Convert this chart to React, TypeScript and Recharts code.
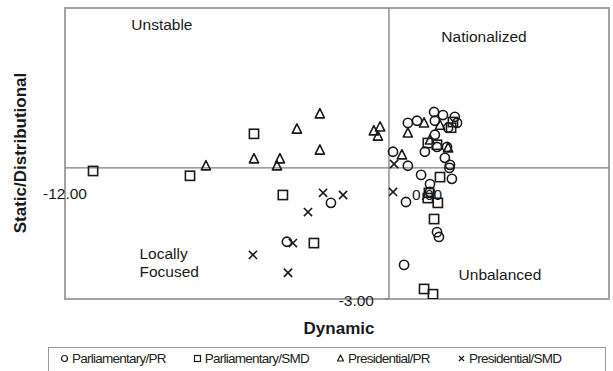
import { ScatterChart, Scatter, XAxis, YAxis, ReferenceLine, ReferenceArea, ReferenceDot } from 'recharts'

// values (Dynamic = x, Static/Distributional = y)
const parlPR = [
  { x: 1.67, y: 1.28 }, { x: 2.0, y: 1.21 }, { x: 2.44, y: 1.17 }, { x: 0.7, y: 1.03 },
  { x: 1.04, y: 1.08 }, { x: 1.7, y: 1.08 }, { x: 2.52, y: 1.03 }, { x: 2.19, y: 0.92 },
  { x: 1.7, y: 0.76 }, { x: 1.33, y: 0.37 }, { x: 1.78, y: 0.48 }, { x: 2.15, y: 0.48 },
  { x: 2.07, y: 0.23 }, { x: 2.26, y: 0.07 }, { x: 2.24, y: 0.0 }, { x: 0.15, y: 0.37 },
  { x: 0.7, y: 0.05 }, { x: 1.19, y: -0.16 }, { x: 2.33, y: -0.25 }, { x: 1.52, y: -0.37 },
  { x: 1.52, y: -0.55 }, { x: 0.63, y: -0.78 }, { x: 1.78, y: -1.47 }, { x: 1.85, y: -1.58 },
  { x: 0.56, y: -2.22 }, { x: -2.15, y: -0.8 }, { x: -3.78, y: -1.69 },
]
const parlSMD = [
  { x: -10.96, y: -0.07 }, { x: -7.37, y: -0.18 }, { x: -5.0, y: 0.78 }, { x: -3.93, y: -0.62 },
  { x: -2.78, y: -1.72 }, { x: 1.44, y: 0.57 }, { x: 1.78, y: 0.53 }, { x: 2.3, y: 0.92 },
  { x: 2.37, y: 1.05 }, { x: 1.89, y: -0.21 }, { x: 1.48, y: -0.57 }, { x: 1.44, y: -0.69 },
  { x: 1.81, y: -0.8 }, { x: 1.67, y: -1.17 }, { x: 1.3, y: -2.77 }, { x: 1.63, y: -2.89 },
]
const presPR = [
  { x: -6.78, y: 0.05 }, { x: -5.0, y: 0.21 }, { x: -4.15, y: 0.05 }, { x: -4.04, y: 0.21 },
  { x: -3.41, y: 0.89 }, { x: -2.56, y: 1.24 }, { x: -2.56, y: 0.41 }, { x: -0.56, y: 0.85 },
  { x: -0.33, y: 0.94 }, { x: -0.41, y: 0.73 }, { x: 0.7, y: 0.8 }, { x: 1.3, y: 1.03 },
  { x: 0.48, y: 0.3 }, { x: 2.19, y: 0.46 }, { x: 1.89, y: 0.98 }, { x: 1.52, y: 0.64 },
]
const presSMD = [
  { x: -5.04, y: -1.99 }, { x: -3.74, y: -2.4 }, { x: -3.56, y: -1.72 }, { x: -3.0, y: -1.01 },
  { x: -2.44, y: -0.57 }, { x: -1.7, y: -0.62 }, { x: 0.15, y: -0.55 }, { x: 0.19, y: 0.09 },
]

const xDomain = [-12, 8.15]
const yDomain = [-3, 3.66]

const quadrantLabels = [
  { x: -8.41, y: 3.27, lines: ['Unstable'] },
  { x: 3.52, y: 3.0, lines: ['Nationalized'] },
  { x: -7.5, y: -2.17, lines: ['Locally', 'Focused'] },
  { x: 4.11, y: -2.45, lines: ['Unbalanced'] },
]

const FONT = '"Liberation Sans", Arial, sans-serif'
const INK = '#1a1a1a'

type Kind = 'circle' | 'square' | 'triangle' | 'cross'

function Marker({ cx, cy, kind, s = 4.6, sw = 1.6 }: { cx: number; cy: number; kind: Kind; s?: number; sw?: number }) {
  if (kind === 'circle') return <circle cx={cx} cy={cy} r={s} fill="none" stroke={INK} strokeWidth={sw} />
  if (kind === 'square')
    return <rect x={cx - s} y={cy - s} width={s * 2} height={s * 2} fill="none" stroke={INK} strokeWidth={sw} />
  if (kind === 'triangle')
    return (
      <polygon
        points={`${cx},${cy - s - 0.5} ${cx - s},${cy + s - 0.5} ${cx + s},${cy + s - 0.5}`}
        fill="none"
        stroke={INK}
        strokeWidth={sw}
        strokeLinejoin="round"
      />
    )
  return (
    <g stroke={INK} strokeWidth={sw}>
      <line x1={cx - s + 0.5} y1={cy - s + 0.5} x2={cx + s - 0.5} y2={cy + s - 0.5} />
      <line x1={cx - s + 0.5} y1={cy + s - 0.5} x2={cx + s - 0.5} y2={cy - s + 0.5} />
    </g>
  )
}

const series: { name: string; data: { x: number; y: number }[]; kind: Kind }[] = [
  { name: 'Parliamentary/PR', data: parlPR, kind: 'circle' },
  { name: 'Parliamentary/SMD', data: parlSMD, kind: 'square' },
  { name: 'Presidential/PR', data: presPR, kind: 'triangle' },
  { name: 'Presidential/SMD', data: presSMD, kind: 'cross' },
]

const textStyle = { fontFamily: FONT, fontSize: 15.5, fill: INK }

export default function App() {
  return (
    <div style={{ position: 'relative', width: 613, height: 371, overflow: 'hidden', background: '#fff', fontFamily: FONT }}>
      <style>{'body{margin:0}'}</style>
      <ScatterChart width={613} height={371} margin={{ top: 8, right: 4, bottom: 72, left: 65 }}>
        <XAxis type="number" dataKey="x" domain={xDomain} allowDataOverflow hide />
        <YAxis type="number" dataKey="y" domain={yDomain} allowDataOverflow hide />
        <ReferenceArea x1={xDomain[0]} x2={xDomain[1]} y1={yDomain[0]} y2={yDomain[1]} fill="none" stroke="#a3a3a3" strokeWidth={2} ifOverflow="visible" />
        <ReferenceLine x={0} stroke="#808080" strokeWidth={1.3} />
        <ReferenceLine y={0} stroke="#808080" strokeWidth={1.3} />

        {/* tick labels, SPSS-style, sitting inside the frame */}
        <ReferenceDot x={-12} y={0} r={0} ifOverflow="visible"
          label={(p: any) => <text x={p.viewBox.x} y={p.viewBox.y + 31} textAnchor="middle" {...textStyle}>-12.00</text>} />
        <ReferenceDot x={0} y={0} r={0} ifOverflow="visible"
          label={(p: any) => <text x={p.viewBox.x + 23} y={p.viewBox.y + 32} {...textStyle}>0.00</text>} />
        <ReferenceDot x={0} y={-3} r={0} ifOverflow="visible"
          label={(p: any) => (
            <g>
              <line x1={p.viewBox.x - 4} y1={p.viewBox.y} x2={p.viewBox.x} y2={p.viewBox.y} stroke="#808080" strokeWidth={1.3} />
              <text x={p.viewBox.x - 15} y={p.viewBox.y + 7} textAnchor="end" {...textStyle}>-3.00</text>
            </g>
          )} />

        {quadrantLabels.map((q) => (
          <ReferenceDot key={q.lines[0]} x={q.x} y={q.y} r={0} ifOverflow="visible"
            label={(p: any) => (
              <text x={p.viewBox.x} y={p.viewBox.y + 5 - (q.lines.length - 1) * 9} textAnchor={q.lines.length > 1 ? 'start' : 'middle'} {...textStyle}>
                {q.lines.map((l, i) => (
                  <tspan key={l} x={q.lines.length > 1 ? p.viewBox.x - 47 : p.viewBox.x} dy={i === 0 ? 0 : 18}>{l}</tspan>
                ))}
              </text>
            )} />
        ))}

        {series.map((s) => (
          <Scatter key={s.name} name={s.name} data={s.data} isAnimationActive={false}
            shape={(p: any) => <Marker cx={p.cx} cy={p.cy} kind={s.kind} />} />
        ))}
      </ScatterChart>

      <div style={{ position: 'absolute', left: 21, top: 153, transform: 'translate(-50%, -50%) rotate(-90deg)', whiteSpace: 'nowrap', fontWeight: 'bold', fontSize: 17, color: INK }}>
        Static/Distributional
      </div>
      <div style={{ position: 'absolute', left: 339, top: 329, transform: 'translate(-50%, -50%)', whiteSpace: 'nowrap', fontWeight: 'bold', fontSize: 17, color: INK }}>
        Dynamic
      </div>

      <div style={{ position: 'absolute', left: 48, top: 347, width: 558, height: 30, border: '1px solid #9a9a9a', boxSizing: 'border-box', display: 'flex', alignItems: 'flex-start', paddingTop: 3, paddingLeft: 11, gap: 27, fontSize: 13.5, letterSpacing: -0.75, color: '#222' }}>
        {series.map((s) => (
          <div key={s.name} style={{ display: 'flex', alignItems: 'center', gap: 3, whiteSpace: 'nowrap' }}>
            <svg width={9} height={9}>
              <Marker cx={4.5} cy={4.5} kind={s.kind} s={3} sw={1.2} />
            </svg>
            <span>{s.name}</span>
          </div>
        ))}
      </div>
    </div>
  )
}
